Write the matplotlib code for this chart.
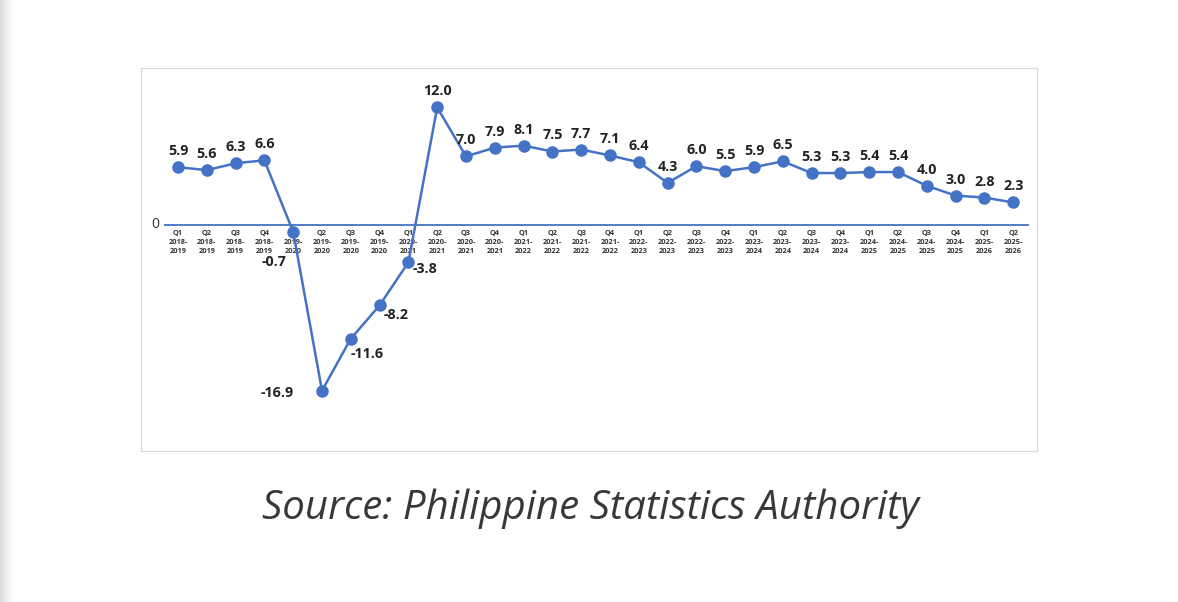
import numpy as np
import matplotlib.pyplot as plt

# GDP growth rate by quarter (%)
quarters = ["Q1", "Q2", "Q3", "Q4"] * 7 + ["Q1", "Q2"]
fiscal_years = (["2018-\n2019"] * 4 + ["2019-\n2020"] * 4 + ["2020-\n2021"] * 4
                + ["2021-\n2022"] * 4 + ["2022-\n2023"] * 4 + ["2023-\n2024"] * 4
                + ["2024-\n2025"] * 4 + ["2025-\n2026"] * 2)
growth = [5.9, 5.6, 6.3, 6.6, -0.7, -16.9, -11.6, -8.2, -3.8, 12.0,
          7.0, 7.9, 8.1, 7.5, 7.7, 7.1, 6.4, 4.3, 6.0, 5.5,
          5.9, 6.5, 5.3, 5.3, 5.4, 5.4, 4.0, 3.0, 2.8, 2.3]
source_text = "Source: Philippine Statistics Authority"

blue = "#4472C4"
W, H = 1178, 602
fig = plt.figure(figsize=(W / 100, H / 100), dpi=100)

# faint gray strip on the left edge
strip = fig.add_axes([0, 0, 13 / W, 1])
strip.imshow(np.linspace(0.86, 1.0, 50).reshape(1, -1), cmap="gray", vmin=0, vmax=1,
             aspect="auto", extent=[0, 1, 0, 1])
strip.axis("off")

# chart box in pixels: x 141..1037, y 68..451
ax = fig.add_axes([141 / W, (H - 451) / H, 896 / W, 383 / H])
x = np.arange(len(growth))
px_x = 28.8
px_y = 9.8
ax.set_xlim(-(178 - 141) / px_x, (1037 - 178) / px_x)
ax.set_ylim(-(451 - 225) / px_y, (225 - 68) / px_y)
for s in ax.spines.values():
    s.set_color("#d9d9d9")
    s.set_linewidth(0.8)
ax.set_xticks([])
ax.set_yticks([])

# zero line
ax.plot([-(178 - 165) / px_x, (1028 - 178) / px_x], [0, 0], color=blue, lw=1.3, zorder=1)
ax.text(-(178 - 155) / px_x, 0, "0", ha="center", va="center", fontsize=10,
        color="#333333", family="Open Sans")

# category labels under the zero line
for i, (q, fy) in enumerate(zip(quarters, fiscal_years)):
    ax.annotate(q + "\n" + fy, xy=(i, 0), xytext=(0, -3.5), textcoords="offset points",
                ha="center", va="top", fontsize=5.3, fontweight="bold", color="#333333",
                linespacing=1.4, family="Open Sans")

ax.plot(x, growth, color=blue, lw=1.8, marker="o", markersize=8, zorder=3)

# data labels
offsets = {4: (-5, -22, "right"), 5: (-20, -2, "right"), 6: (0, -11, "left"),
           7: (3, -7, "left"), 8: (3, -5, "left")}
for i, v in enumerate(growth):
    if i in offsets:
        dx, dy, ha = offsets[i]
        ax.annotate(f"{v:.1f}", xy=(i, v), xytext=(dx, dy), textcoords="offset points",
                    ha=ha, va="center", fontsize=10.3, fontweight="bold", color="#222222",
                    family="Open Sans")
    else:
        ax.annotate(f"{v:.1f}", xy=(i, v), xytext=(0, 6.5), textcoords="offset points",
                    ha="center", va="bottom", fontsize=10.3, fontweight="bold", color="#222222",
                    family="Open Sans")

fig.text(590 / W, 1 - 519 / H, source_text, ha="center", va="baseline", fontsize=29,
         style="italic", color="#383838", family="Open Sans")

fig.savefig("out.png", dpi=100)
